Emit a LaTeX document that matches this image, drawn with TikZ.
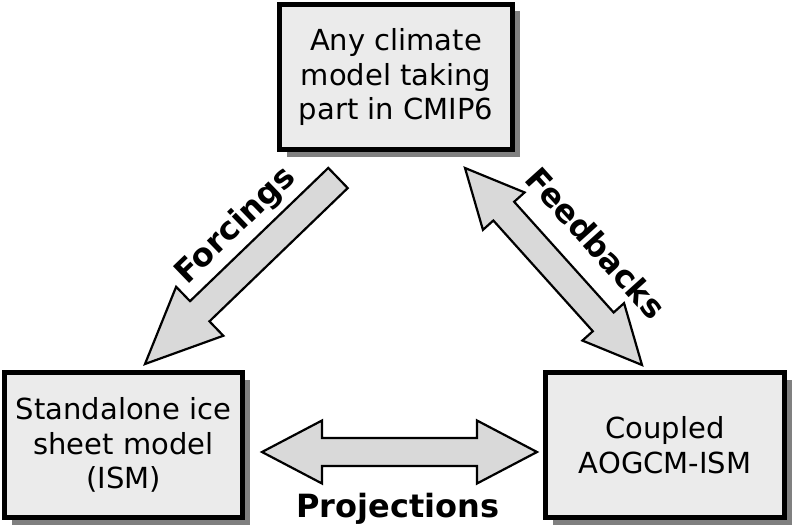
\documentclass[tikz,border=0pt]{standalone}
\usepackage{fontspec}
\setmainfont{DejaVu Sans}
\usetikzlibrary{calc,shadows}

\tikzset{
  model/.style={draw, line width=5pt, fill=black!8, align=center,
    font=\fontsize{29}{34.5}\selectfont,
    drop shadow={shadow xshift=7pt, shadow yshift=-7pt, fill=black!50, opacity=1}},
  link/.style={draw, line width=2.2pt, fill=black!15, line join=miter},
  linklabel/.style={font=\bfseries\fontsize{32}{38}\selectfont}
}

% block arrow: #1 tail, #2 tip, #3 head length, #4 half head width
\newcommand{\onelink}[4]{%
  \coordinate (#2h) at ($(#2)!#3!(#1)$);
  \draw[link] ($(#1)!14pt!90:(#2)$) -- ($(#2h)!14pt!90:(#2)$)
    -- ($(#2h)!#4!90:(#2)$) -- (#2) -- ($(#2h)!#4!-90:(#2)$)
    -- ($(#2h)!14pt!-90:(#2)$) -- ($(#1)!14pt!-90:(#2)$) -- cycle;
}
% double block arrow: #1 and #2 tips, #3 head length, #4 half head width
\newcommand{\twolink}[4]{%
  \coordinate (#1h) at ($(#1)!#3!(#2)$);
  \coordinate (#2h) at ($(#2)!#3!(#1)$);
  \draw[link] (#1) -- ($(#1h)!#4!90:(#2)$) -- ($(#1h)!14pt!90:(#2)$)
    -- ($(#2h)!14pt!-90:(#1)$) -- ($(#2h)!#4!-90:(#1)$) -- (#2)
    -- ($(#2h)!#4!90:(#1)$) -- ($(#2h)!14pt!90:(#1)$)
    -- ($(#1h)!14pt!-90:(#2)$) -- ($(#1h)!#4!-90:(#2)$) -- cycle;
}

\begin{document}
\begin{tikzpicture}[x=1pt, y=-1pt]
    \useasboundingbox (0,0) rectangle (800,532);
    % the three models
    \node[model, minimum width=233pt, minimum height=145pt] (cmip) at (396,77)
        {Any climate\\model taking\\part in CMIP6};
    \node[model, minimum width=238pt, minimum height=145pt] (ism) at (123.5,445)
        {Standalone ice\\sheet model\\(ISM)};
    \node[model, minimum width=239pt, minimum height=145pt] (coupled) at (665,445)
        {Coupled\\AOGCM-ISM};
    % forcings from CMIP6 to the ice sheet model
    \coordinate (forctail) at (338,178);
    \coordinate (forctip) at (145,364);
    \onelink{forctail}{forctip}{76pt}{34pt}
    \node[linklabel, rotate=44] (forc) at (236,226) {Forcings};
    % feedbacks between CMIP6 and the coupled model
    \coordinate (feedtop) at (465,168);
    \coordinate (feedbot) at (642,365);
    \twolink{feedtop}{feedbot}{58pt}{28pt}
    \node[linklabel, rotate=-48] (feed) at (596,243) {Feedbacks};
    % projections between the two bottom models
    \coordinate (projleft) at (262,452);
    \coordinate (projright) at (537,452);
    \twolink{projleft}{projright}{60pt}{31.5pt}
    \node[linklabel, anchor=base] (proj) at (398,517) {Projections};
\end{tikzpicture}
\end{document}
